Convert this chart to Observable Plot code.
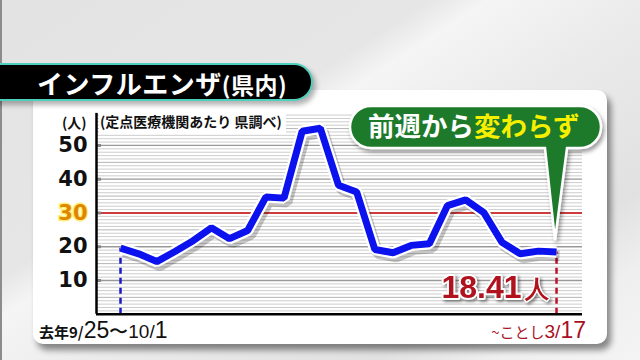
<!DOCTYPE html>
<html><head><meta charset="utf-8">
<script src="https://cdn.jsdelivr.net/npm/d3@7"></script>
<script src="https://cdn.jsdelivr.net/npm/@observablehq/plot@0.6"></script>
<style>
body{margin:0;}
#stage{position:relative;width:640px;height:360px;overflow:hidden;
 background:linear-gradient(147deg,#e3e3e3 0%,#e6e6e6 36%,#f5f5f5 41%,#ebebeb 55%,#e1e1e1 78%,#efefef 88%,#f4f4f4 100%);
 font-family:"Noto Sans CJK JP",sans-serif;}
#edge{position:absolute;left:0;top:0;width:2px;height:360px;background:#8c8c8c;}
#panel{position:absolute;left:33px;top:90px;width:574px;height:254px;background:#fff;border-radius:10px;box-shadow:4px 6px 6px rgba(0,0,0,0.45);}
#titlebar{position:absolute;left:-30px;top:63px;width:341px;height:34px;background:#000;border:2px solid #4fd0bd;border-left:none;border-radius:0 19px 19px 0;box-shadow:3px 4px 5px rgba(0,0,0,0.3);}
#title{position:absolute;left:37px;top:64px;height:38px;line-height:38px;color:#fff;font-weight:bold;font-size:26px;letter-spacing:0.5px;white-space:nowrap;}
#title .sub{font-size:23px;letter-spacing:0.5px;}
#chart{position:absolute;left:0;top:0;}
#unit{position:absolute;left:62px;top:112px;font-size:14px;font-weight:bold;color:#111;line-height:20px;}
#source{position:absolute;left:99px;top:111px;font-size:14px;font-weight:bold;color:#111;line-height:20px;background:#fff;padding:0 4px 2px 1px;white-space:nowrap;}
#startlab{position:absolute;left:39px;top:316px;color:#111;white-space:nowrap;line-height:28px;}
#endlab{position:absolute;right:54px;top:316px;color:#a8101e;white-space:nowrap;line-height:28px;}
.s{font-size:15px;font-weight:bold;font-family:"Noto Sans CJK JP",sans-serif;}
.m{font-size:19px;font-family:"Liberation Sans",sans-serif;}
.b{font-size:23px;font-family:"Liberation Sans",sans-serif;}
.j{font-size:15px;font-family:"Noto Sans CJK JP",sans-serif;}
#callout{position:absolute;left:0;top:0;}
</style></head>
<body>
<div id="stage">
 <div id="edge"></div>
 <div id="panel"></div>
 <div id="titlebar"></div>
 <div id="title"></div>
 <div id="chart"></div>
 <div id="unit"></div>
 <div id="source"></div>
 <div id="startlab"></div>
 <div id="endlab"></div>
 <svg id="callout" width="640" height="360"></svg>
</div>
<script>
// ---- data ----
const weeks = ["9/25","10/2","10/9","10/16","10/23","10/30","11/6","11/13","11/20","11/27","12/4","12/11","12/18","12/25","1/1","1/8","1/15","1/22","1/29","2/5","2/12","2/19","2/26","3/4","3/11"];
const values = [19.6,17.9,15.6,18.6,21.8,25.6,22.4,24.8,34.7,34.4,54.2,55.1,38.2,36.2,19.2,18.2,20.4,20.9,32.2,33.9,30.1,21.3,17.9,18.7,18.41];
const yTicks = [10,20,30,40,50];
const alertLevel = 30;
const latestLabel = "18.41";
const latestUnit = "人";
const titleMain = "インフルエンザ";
const titleSub = "(県内)";
const unitLabel = "(人)";
const sourceLabel = "(定点医療機関あたり 県調べ)";
const startParts = ["去年9/","25","〜10/","1"];
const endParts = ["~ことし","3/","17"];
const calloutWhite = "前週から";
const calloutYellow = "変わらず";

const table = weeks.map((w,i)=>({i, week:w, v:values[i]}));
const last = table[table.length-1];
const first = table[0];
const xDomain = [-1.321, 25.43];
const yDomain = [0, 59.5];
const gridMinor = d3.range(1, 60).filter(d => d % 5 !== 0);
const gridMid = d3.range(5, 60, 10);

// ---- texts ----
document.getElementById("title").innerHTML = titleMain + '<span class="sub">' + titleSub + '</span>';
document.getElementById("unit").textContent = unitLabel;
document.getElementById("source").textContent = sourceLabel;
document.getElementById("startlab").innerHTML =
 '<span class="s">'+startParts[0]+'</span><span class="b">'+startParts[1]+'</span><span class="m">'+startParts[2]+'</span><span class="b">'+startParts[3]+'</span>';
document.getElementById("endlab").innerHTML =
 '<span class="j">'+endParts[0]+'</span><span class="m">'+endParts[1]+'</span><span class="b">'+endParts[2]+'</span>';

const lineOpts = {x:"i", y:"v", strokeLinejoin:"miter", strokeLinecap:"butt"};

const chart = Plot.plot({
 width: 640, height: 360,
 marginLeft: 96, marginRight: 58, marginTop: 112.9, marginBottom: 46.25,
 x: {type:"linear", domain: xDomain, axis: null},
 y: {domain: yDomain, axis: null},
 style: {background:"transparent", overflow:"visible"},
 marks: [
  Plot.ruleY(gridMinor, {stroke:"#cdcdcd", strokeWidth:1}),
  Plot.ruleY(gridMid, {stroke:"#b4b4b4", strokeWidth:1}),
  Plot.ruleY(yTicks, {stroke:"#999", strokeWidth:1.3}),
  Plot.ruleY([alertLevel], {stroke:"#d41414", strokeWidth:1.5}),
  Plot.ruleY(yTicks, {x1: xDomain[0], x2: xDomain[0] + 0.28, stroke:"#888", strokeWidth:3}),
  Plot.ruleX([first], {x:"i", y1:0, y2:"v", stroke:"#1818c8", strokeWidth:2.5, strokeDasharray:"6,4"}),
  Plot.ruleX([last], {x:"i", y1:0, y2:"v", stroke:"#c0102a", strokeWidth:2.5, strokeDasharray:"6,4"}),
  Plot.ruleX([xDomain[0]], {stroke:"#000", strokeWidth:2.5}),
  Plot.ruleY([0], {stroke:"#000", strokeWidth:2.5}),
  Plot.line(table, {...lineOpts, stroke:"#000", strokeOpacity:0.22, strokeWidth:11, dx:3, dy:4}),
  Plot.line(table, {...lineOpts, stroke:"#fff", strokeWidth:11.5}),
  Plot.line(table, {...lineOpts, stroke:"#0b12ee", strokeWidth:7}),
  // y labels
  Plot.text(yTicks.filter(d => d !== alertLevel), {y: d => d, text: d => String(d), frameAnchor:"left", textAnchor:"end", dx:-9, fontSize:21, fontWeight:"bold", fontFamily:"DejaVu Sans", fill:"#111"}),
  Plot.text([alertLevel], {y: d => d, text: d => String(d), frameAnchor:"left", textAnchor:"end", dx:-9, fontSize:21, fontWeight:"bold", fontFamily:"DejaVu Sans", fill:"#de8600", stroke:"#fff07a", strokeWidth:3}),
  // latest value label
  Plot.text([last], {x:"i", y:0, text: () => latestLabel, textAnchor:"end", dx:-35, dy:-27, fontSize:32, fontWeight:"bold", fontFamily:"Liberation Sans", fill:"#b0121e", stroke:"#fff", strokeWidth:4}),
  Plot.text([last], {x:"i", y:0, text: () => latestUnit, textAnchor:"end", dx:-8, dy:-25, fontSize:24, fontWeight:"bold", fill:"#b0121e", stroke:"#fff", strokeWidth:3})
 ]
});
d3.select(chart).selectAll("text")
 .filter(function(){ return this.textContent === latestLabel || this.textContent === latestUnit; })
 .style("filter","drop-shadow(2px 2px 1.5px rgba(0,0,0,0.45))");
document.getElementById("chart").appendChild(chart);

// ---- callout bubble ----
const svg = d3.select("#callout");
const defs = svg.append("defs");
const f = defs.append("filter").attr("id","sh").attr("x","-10%").attr("y","-10%").attr("width","130%").attr("height","130%");
f.append("feDropShadow").attr("dx",2).attr("dy",3).attr("stdDeviation",2).attr("flood-color","#000").attr("flood-opacity",0.4);
svg.append("path")
 .attr("d","M371,106 H580 A21,21 0 0 1 580,148 H567 L555,240 L545,148 H371 A21,21 0 0 1 371,106 Z")
 .attr("fill","#1b7a2b").attr("stroke","#fff").attr("stroke-width",2.5).attr("filter","url(#sh)");
const t = svg.append("text").attr("x",368).attr("y",136).attr("font-size",26.5).attr("font-weight","bold")
 .attr("font-family","Noto Sans CJK JP");
t.append("tspan").attr("fill","#fff").text(calloutWhite);
t.append("tspan").attr("fill","#f6f000").text(calloutYellow);
</script>
</body></html>
